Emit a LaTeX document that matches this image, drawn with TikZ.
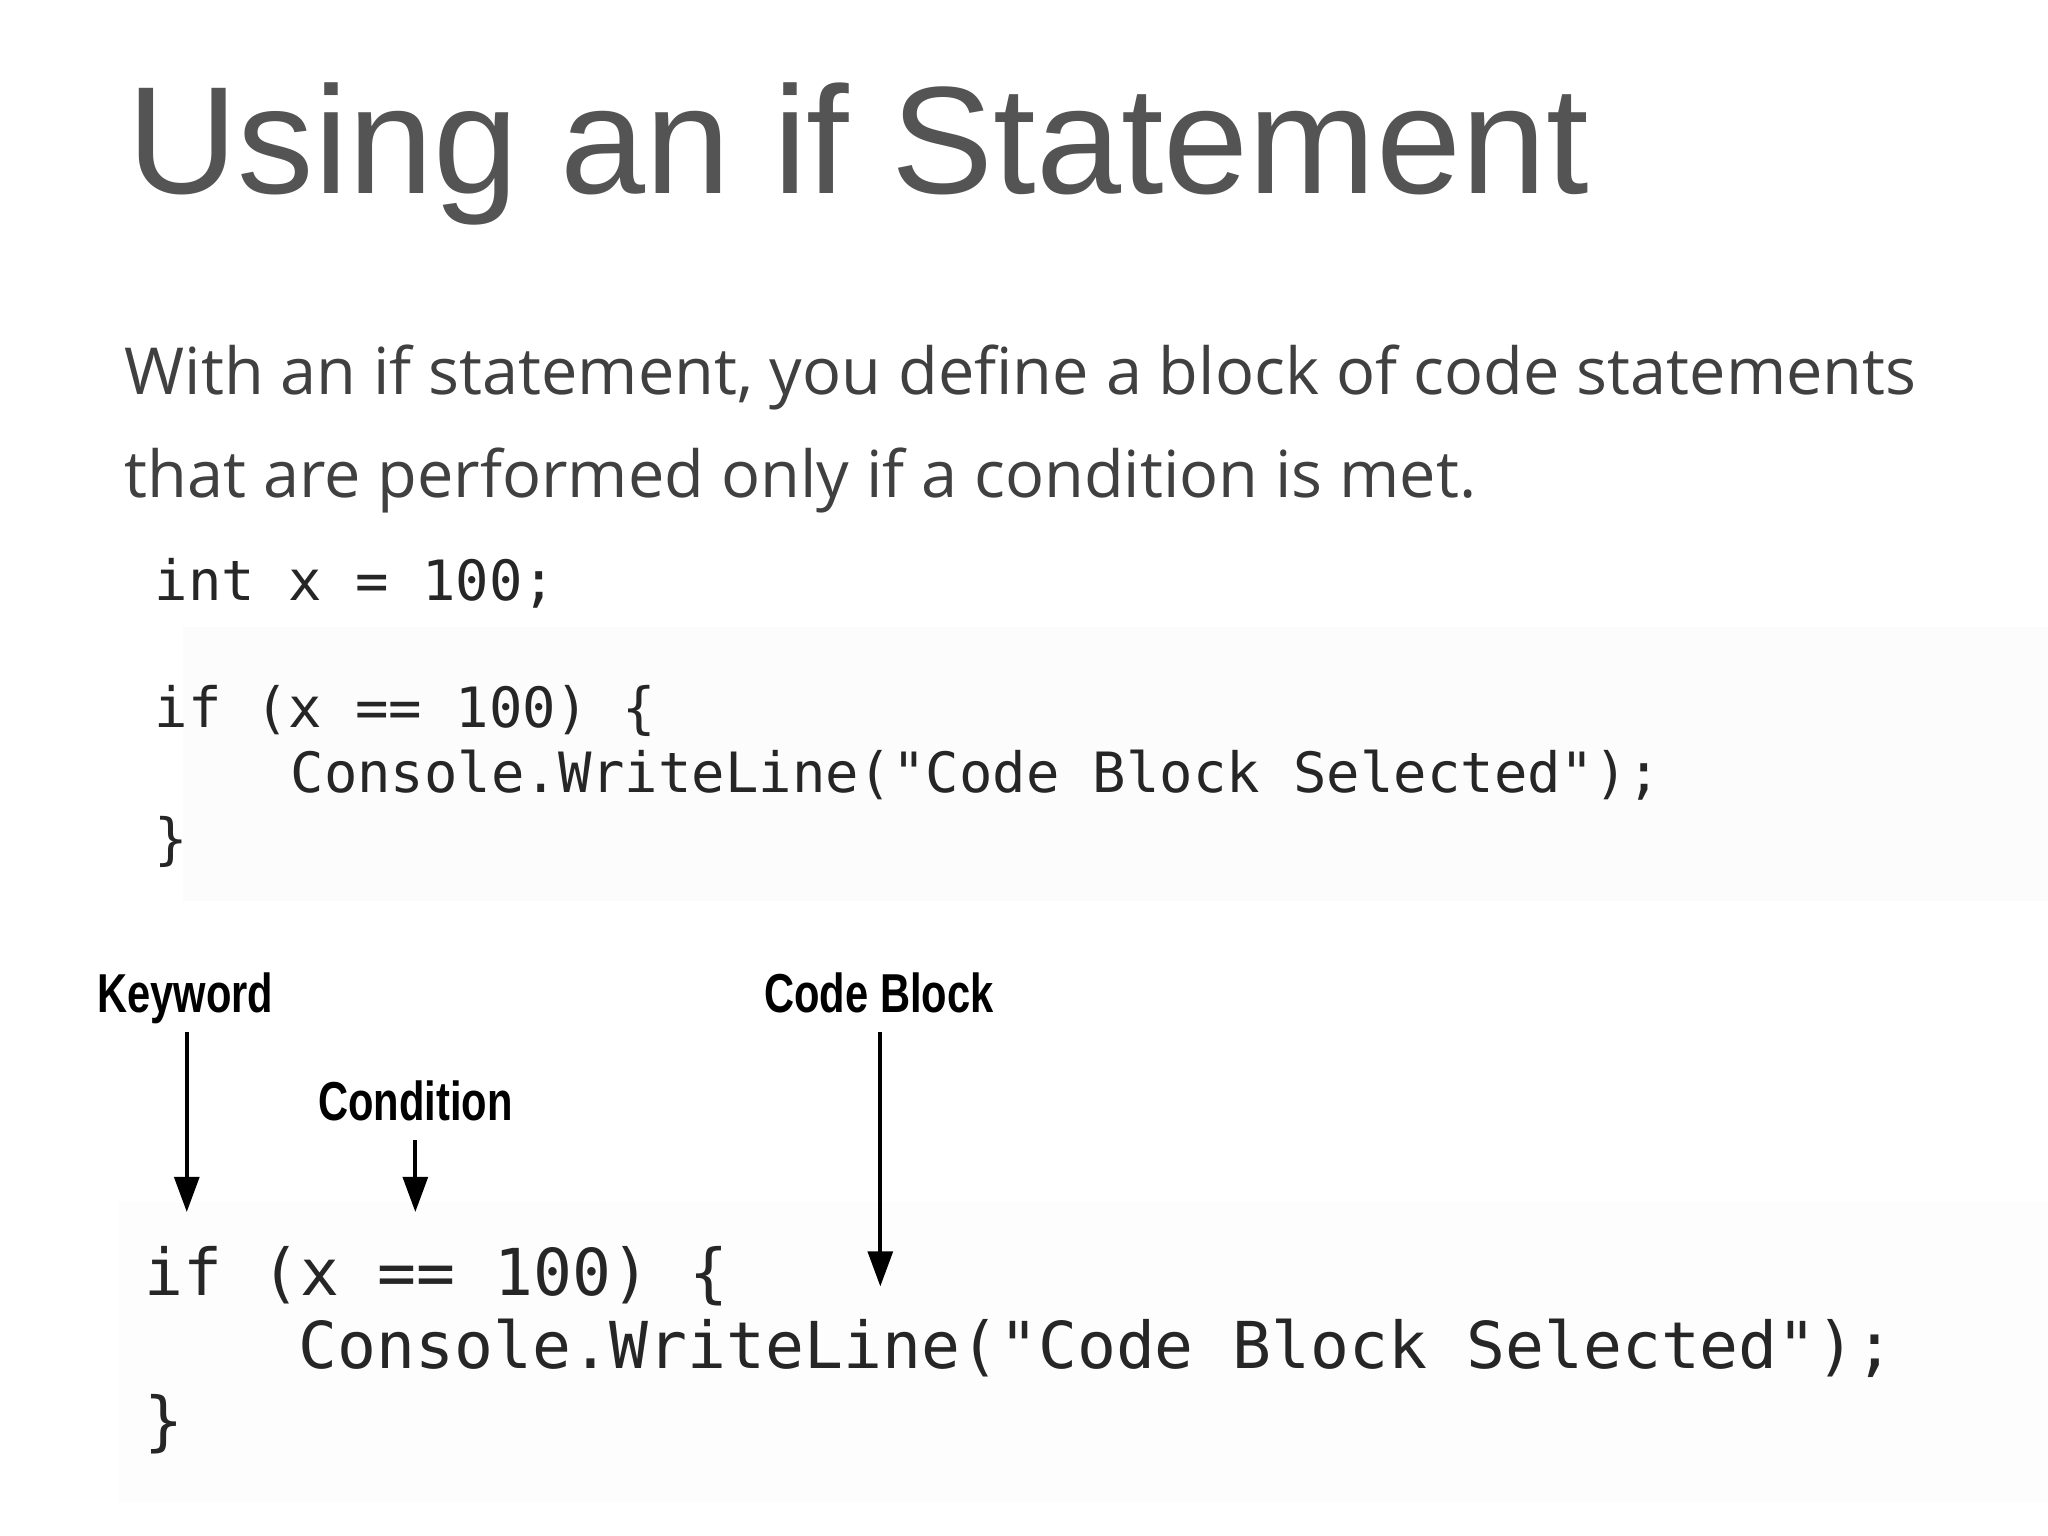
\documentclass[tikz,border=0pt]{standalone}
\usepackage{fontspec}
\setmainfont{Liberation Sans}
\newfontfamily\bodyfont{Open Sans}
\newfontfamily\codefont{DejaVu Sans Mono}
\newfontfamily\lblfont{Liberation Sans}
\usetikzlibrary{arrows.meta}
\begin{document}
\begin{tikzpicture}[x=0.01306cm,y=-0.01306cm,
  txt/.style={anchor=base west,inner sep=0pt},
  code1/.style={txt,font=\codefont\fontsize{15.8pt}{18pt}\selectfont,text=black!85},
  code2/.style={txt,font=\codefont\fontsize{18.4pt}{21pt}\selectfont,text=black!85},
  lbl/.style={anchor=base,inner sep=0pt,font=\lblfont\bfseries\fontsize{15.6pt}{18pt}\selectfont,xscale=0.76},
  arr/.style={-{Triangle[length=10pt,width=7pt]},line width=1.2pt}]
\useasboundingbox (0,0) rectangle (1568,1176);
\fill[white] (0,0) rectangle (1568,1176);
\fill[black!1] (140,480) rectangle (1568,690);
\fill[black!0.8] (90,920) rectangle (1568,1150);
\node[txt,text=black!67,font=\fontsize{43.5pt}{50pt}\selectfont] (title) at (97,148) {Using an if Statement};
\node[txt,text=black!75,font=\bodyfont\fontsize{18.45pt}{24pt}\selectfont] (b1) at (95,302) {With an if statement, you define a block of code statements};
\node[txt,text=black!75,font=\bodyfont\fontsize{18.45pt}{24pt}\selectfont] (b2) at (95,381) {that are performed only if a condition is met.};
\node[code1] (c1) at (118,460) {int x = 100;};
\node[code1] (c2) at (118,557) {if (x == 100) \{};
\node[code1] (c3) at (222,607) {Console.WriteLine("Code Block Selected");};
\node[code1] (c4) at (118,657) {\}};
\node[code2] (d1) at (110,992) {if (x == 100) \{};
\node[code2] (d2) at (228,1048) {Console.WriteLine("Code Block Selected");};
\node[code2] (d3) at (110,1105) {\}};
\node[lbl] (kw) at (142,775) {Keyword};
\node[lbl] (cond) at (318,858) {Condition};
\node[lbl] (cb) at (673,775) {Code Block};
\coordinate (kwe) at (143,928);
\coordinate (conde) at (318,928);
\coordinate (cbe) at (674,985);
\draw[arr] (143,790) -- (kwe);
\draw[arr] (318,873) -- (conde);
\draw[arr] (674,790) -- (cbe);
\end{tikzpicture}
\end{document}
